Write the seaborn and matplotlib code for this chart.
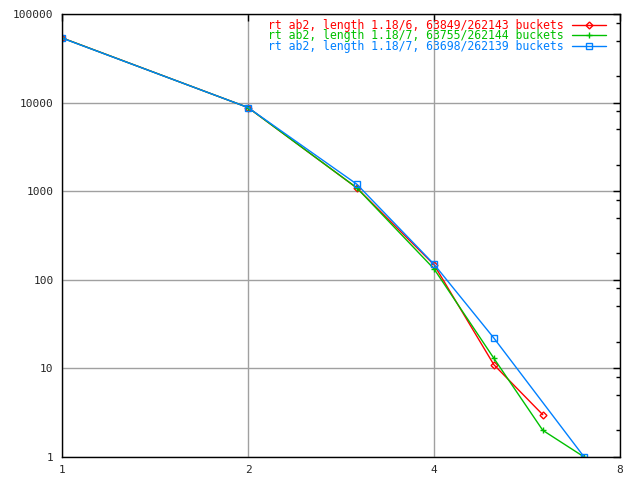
import numpy as np
import pandas as pd
import seaborn as sns
import matplotlib.pyplot as plt
from matplotlib.ticker import FixedLocator, NullFormatter

# chain length (x) vs number of buckets (y)
red_x = [1, 2, 3, 4, 5, 6]
red_y = [53800, 8800, 1090, 148, 11, 3]
green_x = [1, 2, 3, 4, 5, 6, 7]
green_y = [53720, 8800, 1090, 133, 13, 2, 1]
blue_x = [1, 2, 3, 4, 5, 7]
blue_y = [53530, 8800, 1200, 150, 22, 1]

labels = [
    "rt ab2, length 1.18/6, 63849/262143 buckets",
    "rt ab2, length 1.18/7, 63755/262144 buckets",
    "rt ab2, length 1.18/7, 63698/262139 buckets",
]
colors = ["#ff0000", "#00c000", "#0080ff"]
markers = ["D", "+", "s"]

x_ticks = [1, 2, 4, 8]
y_ticks = [1, 10, 100, 1000, 10000, 100000]

sns.set_style("white")
plt.rcParams["font.family"] = ["DejaVu Sans Mono"]

fig = plt.figure(figsize=(6.4, 4.8), dpi=100)
ax = fig.add_axes([62 / 640, 1 - 457 / 480, (620 - 62) / 640, (457 - 14) / 480])

series = [(red_x, red_y), (green_x, green_y), (blue_x, blue_y)]
for (xs, ys), lab, col, mk in zip(series, labels, colors, markers):
    sns.lineplot(
        x=xs, y=ys, ax=ax, label=lab, color=col, linewidth=1,
        marker=mk, markersize=5 if mk != "D" else 3.5,
        markerfacecolor="none", markeredgecolor=col, markeredgewidth=1,
    )

ax.set_xscale("log", base=2)
ax.set_yscale("log")
ax.set_xlim(1, 8)
ax.set_ylim(1, 100000)

ax.xaxis.set_major_locator(FixedLocator(x_ticks))
ax.set_xticklabels([str(v) for v in x_ticks])
ax.xaxis.set_minor_locator(FixedLocator([]))
ax.yaxis.set_major_locator(FixedLocator(y_ticks))
ax.set_yticklabels([str(v) for v in y_ticks])
minor_y = [m * 10 ** e for e in range(5) for m in (2, 5, 8)]
ax.yaxis.set_minor_locator(FixedLocator(minor_y))
ax.yaxis.set_minor_formatter(NullFormatter())

ax.grid(True, which="major", color="#a0a0a0", linewidth=1)
ax.set_axisbelow(True)
ax.tick_params(which="both", direction="in", top=True, right=True,
               labelsize=8, color="black", width=1)
ax.tick_params(which="major", length=5, pad=6)
ax.tick_params(which="minor", length=3)
for s in ax.spines.values():
    s.set_color("black")
    s.set_linewidth(1)

leg = ax.legend(
    loc="upper right", bbox_to_anchor=(612 / 640, 1 - 13 / 480),
    bbox_transform=fig.transFigure, frameon=False, markerfirst=False,
    fontsize=8.3, handlelength=3.0, handletextpad=0.7, labelspacing=-0.22,
    borderpad=0, labelcolor="linecolor",
)

fig.savefig("out.png", dpi=100)
